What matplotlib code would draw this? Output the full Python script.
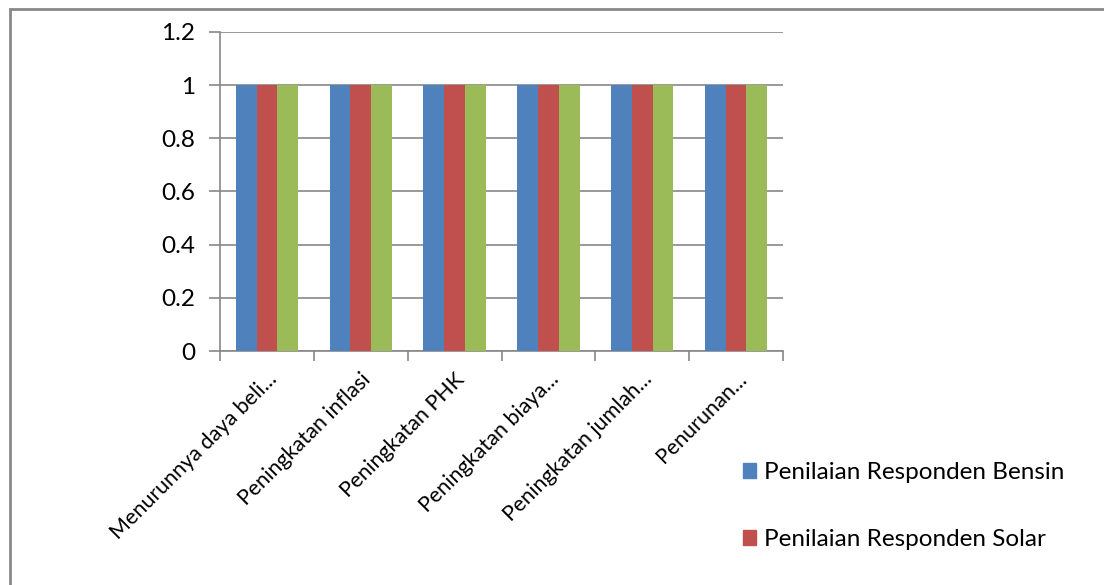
import matplotlib.pyplot as plt
import numpy as np
from matplotlib.patches import Patch, Rectangle

plt.rcParams['font.family'] = ['Lato', 'DejaVu Sans']

categories = ['Menurunnya daya beli...', 'Peningkatan inflasi', 'Peningkatan PHK',
              'Peningkatan biaya...', 'Peningkatan jumlah...', 'Penurunan...']
bensin = [1, 1, 1, 1, 1, 1]
solar = [1, 1, 1, 1, 1, 1]
ketiga = [1, 1, 1, 1, 1, 1]
series = [bensin, solar, ketiga]
colors = ['#4F81BD', '#C0504D', '#9BBB59']
legend_labels = ['Penilaian Responden Bensin', 'Penilaian Responden Solar']
yticks = [0, 0.2, 0.4, 0.6, 0.8, 1, 1.2]
ytick_labels = ['0', '0.2', '0.4', '0.6', '0.8', '1', '1.2']

fig = plt.figure(figsize=(11.04, 5.85), dpi=100)
ax = fig.add_axes([220 / 1104, 1 - 351 / 585, 563 / 1104, 319 / 585])

x = np.arange(len(categories))
w = 0.222
for i, (vals, c) in enumerate(zip(series, colors)):
    ax.bar(x + (i - 1) * w, vals, width=w, color=c, zorder=3)

ax.set_xlim(-0.5, len(categories) - 0.5)
ax.set_ylim(0, 1.2)
ax.set_yticks(yticks)
ax.set_yticklabels(ytick_labels, fontsize=17.5)
ax.yaxis.grid(True, color='#878787', lw=1.2, zorder=0)

# category ticks at boundaries
ax.set_xticks(np.arange(len(categories) + 1) - 0.5)
ax.set_xticklabels([])
ax.set_xticks(x, minor=True)
ax.set_xticklabels(categories, minor=True, rotation=45, ha='right', va='top',
                   rotation_mode='anchor', fontsize=15.5)
ax.tick_params(axis='x', which='minor', length=0, pad=13)
ax.tick_params(axis='x', which='major', length=7, color='#878787', width=1.2)
ax.tick_params(axis='y', length=8, color='#878787', width=1.2, pad=10)

for s in ['top', 'right']:
    ax.spines[s].set_visible(False)
for s in ['left', 'bottom']:
    ax.spines[s].set_color('#878787')
    ax.spines[s].set_linewidth(1.2)

handles = [Patch(color=c) for c in colors[:2]]
fig.legend(handles, legend_labels, loc='upper left',
           bbox_to_anchor=(721 / 1104, 1 - 440 / 585), frameon=False,
           fontsize=17.5, handlelength=0.55, handleheight=0.55,
           handletextpad=0.3, labelspacing=1.9)

# outer frame
fig.patches.append(Rectangle((10 / 1104, -0.1), 1.2, 1 - 9 / 585 + 0.1,
                             transform=fig.transFigure, fill=False,
                             edgecolor='#888888', lw=2))

fig.savefig('out.png', dpi=100)
